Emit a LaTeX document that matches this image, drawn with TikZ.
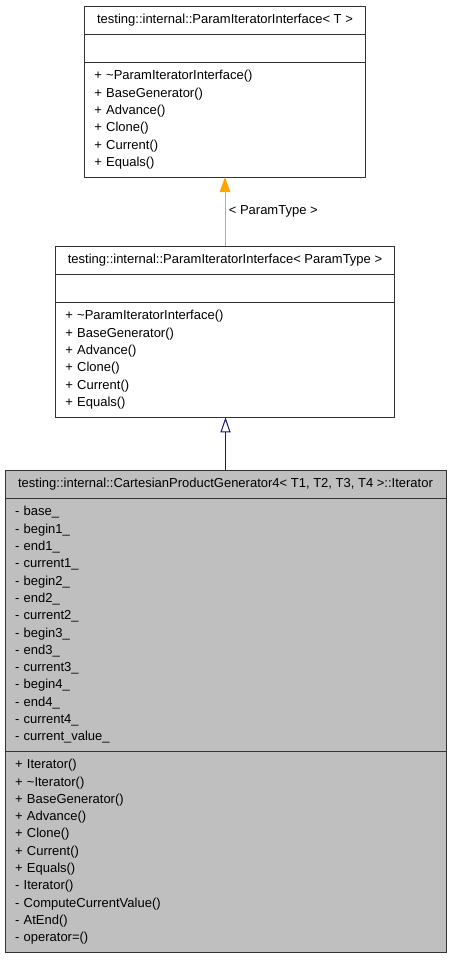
\documentclass[tikz,border=0pt]{standalone}
\usepackage{fontspec}
\setmainfont{Liberation Sans}
\usetikzlibrary{positioning,arrows.meta}
\definecolor{inhfill}{HTML}{BFBFBF}
\definecolor{tmplarrow}{HTML}{FFA500}
\definecolor{inharrow}{HTML}{191970}

\begin{document}
\begin{tikzpicture}[x=1pt,y=-1pt,
     font=\fontsize{13}{17.3}\selectfont,
     cls/.style={draw=black!80,line width=1pt,inner sep=0pt,outer sep=0pt},
     clsname/.style={cls,minimum height=27.8pt,align=center},
     clsbody/.style={cls,align=left,inner xsep=10pt}]
          \useasboundingbox (0,0) rectangle (451,960);
          % ParamIteratorInterface< T >
          \node[clsname,minimum width=281.5pt,anchor=north] (topname) at (225,6.3)
                {testing::internal::ParamIteratorInterface< T >};
          \node[cls,minimum width=281.5pt,minimum height=28.3pt,below=0pt of topname] (topattr) {};
          \node[clsbody,text width=261.5pt,minimum height=114.7pt,below=0pt of topattr] (topops)
                {+ \textasciitilde ParamIteratorInterface()\\
                 + BaseGenerator()\\
                 + Advance()\\
                 + Clone()\\
                 + Current()\\
                 + Equals()};
          % ParamIteratorInterface< ParamType >
          \node[clsname,minimum width=339.5pt,anchor=north] (midname) at (225,246.2)
                {testing::internal::ParamIteratorInterface< ParamType >};
          \node[cls,minimum width=339.5pt,minimum height=28.3pt,below=0pt of midname] (midattr) {};
          \node[clsbody,text width=319.5pt,minimum height=115pt,below=0pt of midattr] (midops)
                {+ \textasciitilde ParamIteratorInterface()\\
                 + BaseGenerator()\\
                 + Advance()\\
                 + Clone()\\
                 + Current()\\
                 + Equals()};
          % CartesianProductGenerator4::Iterator
          \node[clsname,fill=inhfill,minimum width=441pt,minimum height=28.3pt,anchor=north] (itname) at (225.5,470)
                {testing::internal::CartesianProductGenerator4< T1, T2, T3, T4 >::Iterator};
          \node[clsbody,fill=inhfill,text width=421pt,minimum height=253.4pt,below=0pt of itname] (itattr)
                {- base\_\\
                 - begin1\_\\
                 - end1\_\\
                 - current1\_\\
                 - begin2\_\\
                 - end2\_\\
                 - current2\_\\
                 - begin3\_\\
                 - end3\_\\
                 - current3\_\\
                 - begin4\_\\
                 - end4\_\\
                 - current4\_\\
                 - current\_value\_};
          \node[clsbody,fill=inhfill,text width=421pt,minimum height=200.3pt,below=0pt of itattr] (itops)
                {+ Iterator()\\
                 + \textasciitilde Iterator()\\
                 + BaseGenerator()\\
                 + Advance()\\
                 + Clone()\\
                 + Current()\\
                 + Equals()\\
                 - Iterator()\\
                 - ComputeCurrentValue()\\
                 - AtEnd()\\
                 - operator=()};
          % connectors
          \draw[tmplarrow,line width=1pt,-{Triangle[length=15pt,width=10.5pt]}]
                (midname.north) -- (topops.south)
                node[midway,right,text=black] {< ParamType >};
          \draw[inharrow,line width=1pt,-{Triangle[open,length=15pt,width=10pt]}]
                (itname.north) -- (midops.south -| itname.north);
    \end{tikzpicture}
\end{document}
